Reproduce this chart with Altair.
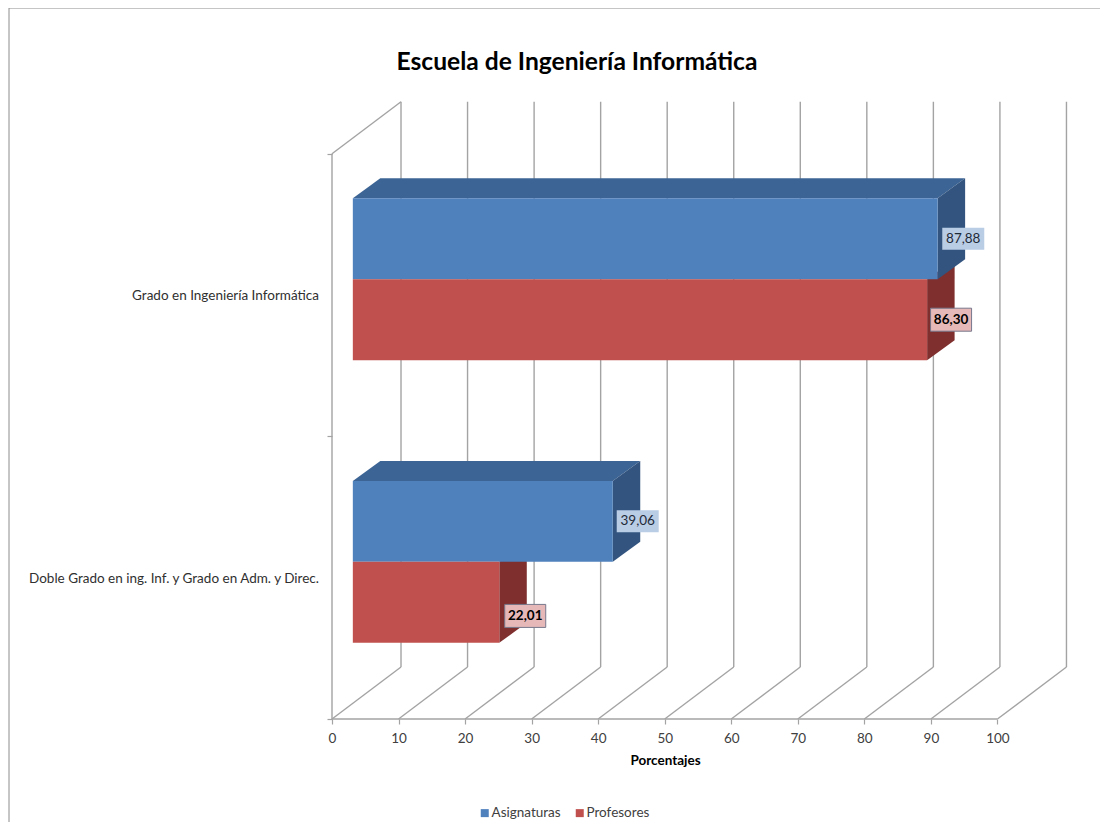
import altair as alt
import pandas as pd

chart_title = "Escuela de Ingeniería Informática"
categories = ["Grado en Ingeniería Informática", "Doble Grado en ing. Inf. y Grado en Adm. y Direc."]
category_pos = [1.5, 0.5]
asignaturas = [87.88, 39.06]
profesores = [86.30, 22.01]
ticks = list(range(0, 101, 10))
label_text = ["87,88", "86,30", "39,06", "22,01"]
label_kind = ["A", "P", "A", "P"]
label_nudge_x = [3.85, 3.6, 3.75, 3.9]
label_nudge_y = [0.0, 0.0, 0.0, -0.048]

FONT = "Lato"
XMAX, YMAX = 110.45, 2.183
WALL_DX, WALL_DY = 10.37, 0.184
BAR_X0, BAR_LIFT = 3.13, 0.056
BAR_T = 0.2865
BAR_DX, BAR_DY = 4.13, 0.0707
GRID = "#a3a3a3"

X = alt.Scale(domain=[0, XMAX], nice=False, zero=False)
Y = alt.Scale(domain=[0, YMAX], nice=False, zero=False)
def ex(f="x"): return alt.X(f + ":Q", scale=X)
def ey(f="y"): return alt.Y(f + ":Q", scale=Y)

# walls
diag = pd.DataFrame([{"x": t, "x2": t + WALL_DX, "y": 0, "y2": WALL_DY} for t in ticks]
                    + [{"x": 0, "x2": WALL_DX, "y": 2, "y2": 2 + WALL_DY}])
vert = pd.DataFrame([{"x": t + WALL_DX, "y": WALL_DY, "y2": 2 + WALL_DY} for t in ticks]
                    + [{"x": 0, "y": 0, "y2": 2}])
rule = dict(color=GRID, strokeWidth=1.4)
diag_l = alt.Chart(diag).mark_rule(**rule).encode(x=ex(), x2="x2:Q", y=ey(), y2="y2:Q")
vert_l = alt.Chart(vert).mark_rule(**rule).encode(x=ex(), y=ey(), y2="y2:Q")

# axes
x_axis = alt.Chart(pd.DataFrame({"x": [0], "x2": [100], "y": [0]})).mark_rule(**rule).encode(
    x=alt.X("x:Q", scale=X, axis=alt.Axis(
        values=ticks, domain=False, grid=False, tickColor=GRID, tickSize=5, tickWidth=1.2,
        labelFont=FONT, labelFontSize=13.5, labelColor="#404040", labelPadding=7, labelAngle=0,
        format="d", labelFlush=False,
        title="Porcentajes", titleFont=FONT, titleFontSize=13.5, titleFontWeight="bold",
        titleColor="#000000", titleX=333, titleY=34)),
    x2="x2:Q",
    y=alt.Y("y:Q", scale=Y, axis=alt.Axis(
        values=[0, 1, 2], domain=False, grid=False, labels=False, title=None,
        tickColor=GRID, tickSize=5, tickWidth=1.2)))

# bars
rows = []
for c, a, p in zip(category_pos, asignaturas, profesores):
    mid = c + BAR_LIFT
    rows.append(dict(s="Asignaturas", v=a, x0=BAR_X0, x1=BAR_X0 + a, bot=mid, top=mid + BAR_T))
    rows.append(dict(s="Profesores", v=p, x0=BAR_X0, x1=BAR_X0 + p, bot=mid - BAR_T, top=mid))
bars = pd.DataFrame(rows)

def side(series):
    out = []
    for i, r in bars[bars.s == series].iterrows():
        out.append(dict(k=i, x=r.x1, y=r.bot, y2=r.top))
        out.append(dict(k=i, x=r.x1 + BAR_DX, y=r.bot + BAR_DY, y2=r.top + BAR_DY))
    return pd.DataFrame(out)

def topface(series):
    out = []
    for i, r in bars[bars.s == series].iterrows():
        out.append(dict(k=i, x=r.x0, x2=r.x1, y=r.top))
        out.append(dict(k=i, x=r.x0 + BAR_DX, x2=r.x1 + BAR_DX, y=r.top + BAR_DY))
    return pd.DataFrame(out)

red_side = alt.Chart(side("Profesores")).mark_area(orient="vertical", color="#7f2f2e").encode(
    x=ex(), y=ey(), y2="y2:Q", detail="k:N")
blue_top = alt.Chart(topface("Asignaturas")).mark_area(orient="horizontal", color="#3c6494").encode(
    y=ey(), x=ex(), x2="x2:Q", detail="k:N")
blue_side = alt.Chart(side("Asignaturas")).mark_area(orient="vertical", color="#32547f").encode(
    x=ex(), y=ey(), y2="y2:Q", detail="k:N")

front = alt.Chart(bars).mark_rect().encode(
    x=ex("x0"), x2="x1:Q", y=ey("bot"), y2="top:Q",
    color=alt.Color("s:N", scale=alt.Scale(domain=["Asignaturas", "Profesores"], range=["#4f81bd", "#c0504d"]),
                    legend=alt.Legend(orient="none", legendX=146, legendY=704, direction="horizontal",
                                      title=None, symbolType="square", symbolSize=64, symbolStrokeWidth=0,
                                      labelFont=FONT, labelFontSize=13.5, labelColor="#404040",
                                      labelOffset=0, columnPadding=12, columns=2)))

# data labels
values_in_order = [v for pair in zip(asignaturas, profesores) for v in pair]
lab = pd.DataFrame({
    "x": [BAR_X0 + v + n for v, n in zip(values_in_order, label_nudge_x)],
    "y": [c + BAR_LIFT + d + n for (c, d), n in zip(
        [(c, d) for c in category_pos for d in (BAR_T / 2, -BAR_T / 2)], label_nudge_y)],
    "t": label_text,
    "s": label_kind,
})
box_a = alt.Chart(lab[lab.s == "A"]).mark_rect(width=42, height=22, color="#b9cde5").encode(x=ex(), y=ey())
box_p = alt.Chart(lab[lab.s == "P"]).mark_rect(width=41, height=23, fill="#e6b9b8", stroke="#77778c", strokeWidth=1).encode(x=ex(), y=ey())
txt_a = alt.Chart(lab[lab.s == "A"]).mark_text(font=FONT, fontSize=13.5, color="#1f2a38", baseline="middle").encode(x=ex(), y=ey(), text="t:N")
txt_p = alt.Chart(lab[lab.s == "P"]).mark_text(font=FONT, fontSize=13.5, fontWeight="bold", color="#000000", baseline="middle").encode(x=ex(), y=ey(), text="t:N")

# category labels
cat = pd.DataFrame({"c": categories, "y": category_pos})
cat_l = alt.Chart(cat).mark_text(font=FONT, fontSize=13.5, color="#303030", align="right", baseline="middle", dy=1).encode(
    x=alt.value(-13), y=ey(), text="c:N")

# title, as text above the plot
title_l = alt.Chart(pd.DataFrame({"t": [chart_title]})).mark_text(
    font=FONT, fontSize=24.6, fontWeight="bold", color="#000000", baseline="middle"
).encode(x=alt.value(245), y=alt.value(-39), text="t:N")

# outer frame
ftop = alt.Chart(pd.DataFrame({"a": [0]})).mark_rule(color="#8c8c8c", strokeWidth=1).encode(
    x=alt.value(-323), x2=alt.value(768), y=alt.value(-94))
fleft = alt.Chart(pd.DataFrame({"a": [0]})).mark_rule(color="#8c8c8c", strokeWidth=1).encode(
    x=alt.value(-323), y=alt.value(-94), y2=alt.value(720))

chart = alt.layer(x_axis, ftop, fleft, vert_l, diag_l, red_side, blue_top, blue_side, front,
                  box_a, box_p, txt_a, txt_p, cat_l, title_l).properties(
    width=735, height=617,
    autosize=alt.AutoSizeParams(type="none"),
    padding={"left": 324, "top": 94, "right": 33, "bottom": 103},
).configure_view(stroke=None)

chart.save("out.html", embed_options={"renderer": "svg", "actions": False})
